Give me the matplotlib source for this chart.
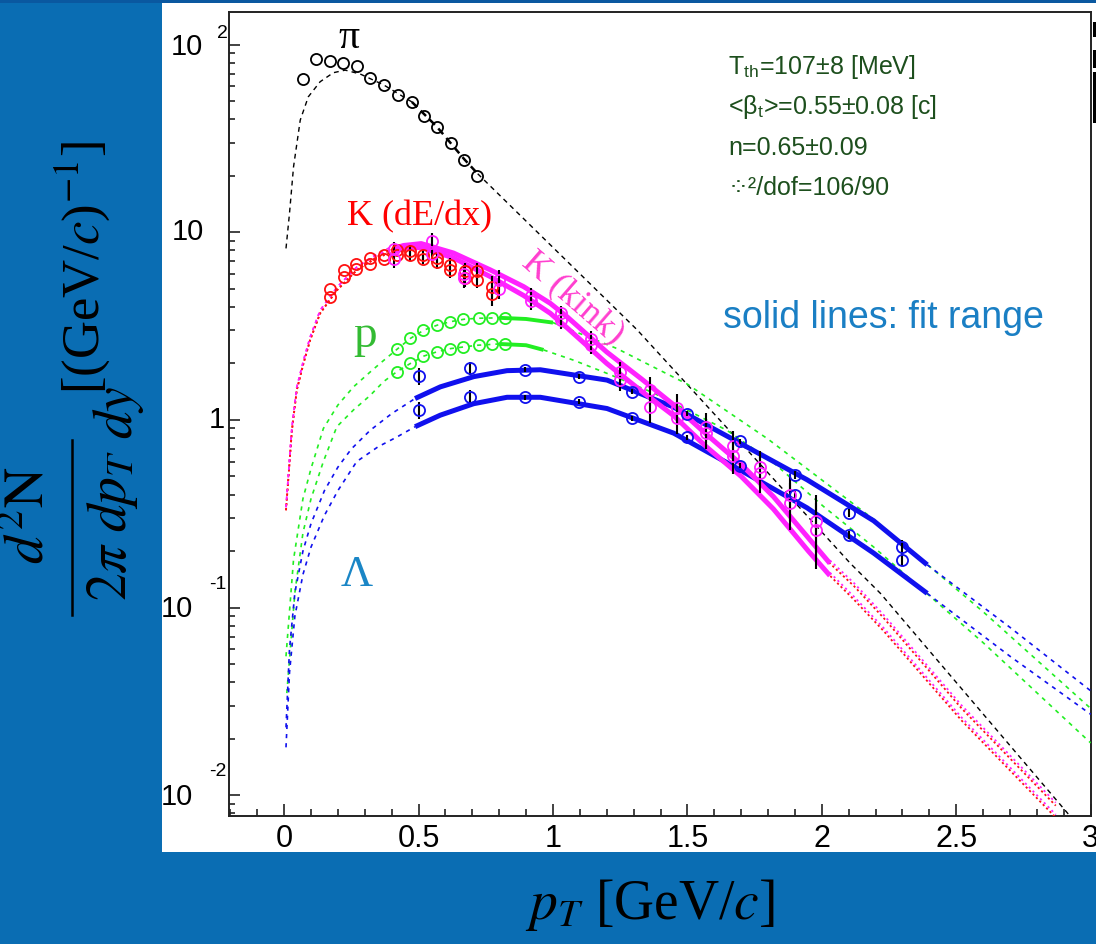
import numpy as np
import matplotlib
matplotlib.use('Agg')
import matplotlib.pyplot as plt
from matplotlib import transforms
from matplotlib.patches import Rectangle
from matplotlib.lines import Line2D
from matplotlib.ticker import FixedLocator, LogLocator, NullFormatter, MultipleLocator

plt.rcParams['mathtext.fontset'] = 'stix'

# ---------------- data ----------------
# pion data
pi_x = [0.072, 0.119, 0.169, 0.218, 0.271, 0.320, 0.370, 0.422, 0.475, 0.522, 0.568, 0.620, 0.670, 0.719]
pi_y = [65.4, 83.4, 81.7, 79.4, 76.8, 66.6, 60.9, 53.8, 49.5, 41.6, 36.5, 29.8, 24.4, 19.9]
# pion fit curve
pi_fx = [0.007, 0.020, 0.035, 0.060, 0.090, 0.134, 0.183, 0.227, 0.283, 0.370, 0.475, 0.568, 0.670, 0.720,
         1.000, 1.313, 1.700, 2.106, 2.218, 2.355, 2.918]
pi_fy = [8.2, 12.6, 22.3, 39.6, 52.7, 63.4, 70.8, 73.1, 69.7, 61.0, 49.5, 36.5, 24.5, 20.5,
         8.3, 3.02, 0.75, 0.172, 0.119, 0.070, 0.0079]

# kaon dE/dx data (two charges)
kd_x = [0.169, 0.221, 0.268, 0.320, 0.370, 0.419, 0.469, 0.518, 0.568, 0.618, 0.674, 0.717, 0.773]
kd_a = [5.0, 6.3, 6.8, 7.3, 7.6, 8.0, 7.9, 7.6, 7.3, 6.7, 6.2, 6.2, 5.1]
kd_b = [4.5, 5.8, 6.4, 6.8, 7.2, 7.6, 7.6, 7.2, 6.9, 6.3, 5.7, 5.6, 4.7]
kd_err = [0.0, 0.0, 0.0, 0.0, 0.0, 0.0, 0.08, 0.06, 0.08, 0.09, 0.10, 0.10, 0.14]

# kaon kink data
kk_x = [0.41, 0.55, 0.67, 0.80, 0.92, 1.03, 1.14, 1.25, 1.36, 1.46, 1.57, 1.67, 1.77, 1.88, 1.98]
kk_a = [8.1, 9.0, 6.0, 5.6, 4.6, 3.7, 2.7, 1.81, 1.44, 1.16, 0.92, 0.73, 0.56, 0.40, 0.29]
kk_b = [7.2, 7.7, 5.7, 5.0, 4.3, 3.4, 2.5, 1.63, 1.17, 1.03, 0.85, 0.64, 0.52, 0.36, 0.26]
kk_err = [0.10, 0.10, 0.12, 0.12, 0.10, 0.10, 0.10, 0.12, 0.18, 0.18, 0.18, 0.20, 0.22, 0.28, 0.38]

# kaon fit curves
k_fx = [0.007, 0.029, 0.047, 0.072, 0.097, 0.134, 0.196, 0.271, 0.345, 0.41, 0.444, 0.51, 0.63, 0.767, 0.891,
        0.990, 1.052, 1.20, 1.33, 1.45, 1.57, 1.70, 1.82, 1.95, 2.03, 2.12, 2.23, 2.52, 2.87]
k_fa = [0.33, 0.88, 1.44, 2.0, 2.67, 3.7, 4.9, 6.3, 7.4, 8.2, 8.5, 8.7, 7.75, 6.3, 5.13,
        4.18, 3.55, 2.3, 1.65, 1.2, 0.84, 0.58, 0.39, 0.235, 0.172, 0.13, 0.088, 0.029, 0.0088]
k_fb = [0.33, 0.88, 1.44, 2.0, 2.67, 3.7, 4.9, 6.3, 7.3, 7.9, 8.2, 8.3, 7.3, 5.8, 4.6,
        3.7, 3.1, 2.0, 1.42, 1.05, 0.72, 0.50, 0.335, 0.20, 0.148, 0.11, 0.075, 0.025, 0.0076]

# proton data
p_x = [0.419, 0.469, 0.518, 0.568, 0.618, 0.667, 0.723, 0.773, 0.822]
p_a = [2.38, 2.72, 3.01, 3.20, 3.34, 3.44, 3.48, 3.48, 3.48]
p_b = [1.81, 2.00, 2.19, 2.31, 2.40, 2.45, 2.51, 2.54, 2.54]
# proton fit curves
pa_fx = [0.007, 0.035, 0.07, 0.10, 0.146, 0.20, 0.258, 0.32, 0.357, 0.42, 0.47, 0.52, 0.57, 0.62, 0.67,
         0.72, 0.80, 0.90, 1.00, 1.238, 1.50, 1.80, 2.20, 2.60, 3.00]
pa_fy = [0.055, 0.18, 0.38, 0.55, 0.90, 1.20, 1.50, 1.80, 2.00, 2.38, 2.72, 3.01, 3.20, 3.34, 3.44,
         3.48, 3.50, 3.45, 3.30, 2.40, 1.55, 0.79, 0.29, 0.095, 0.029]
pb_fx = [0.01, 0.04, 0.07, 0.10, 0.146, 0.196, 0.258, 0.32, 0.37, 0.42, 0.47, 0.52, 0.57, 0.62, 0.67,
         0.72, 0.80, 0.90, 0.965, 1.077, 1.201, 1.375, 1.647, 1.821, 2.007, 2.193, 2.60, 3.00]
pb_fy = [0.035, 0.12, 0.25, 0.38, 0.60, 0.92, 1.13, 1.35, 1.60, 1.81, 2.00, 2.19, 2.31, 2.40, 2.45,
         2.50, 2.54, 2.50, 2.36, 2.08, 1.77, 1.39, 0.88, 0.59, 0.345, 0.21, 0.065, 0.019]

# lambda data
l_x = [0.500, 0.692, 0.897, 1.095, 1.294, 1.499, 1.697, 1.902, 2.100, 2.299]
l_a = [1.71, 1.88, 1.85, 1.70, 1.41, 1.08, 0.77, 0.51, 0.318, 0.211]
l_b = [1.13, 1.33, 1.32, 1.25, 1.02, 0.81, 0.57, 0.40, 0.244, 0.18]
l_err = [0.10, 0.08, 0.03, 0.03, 0.03, 0.03, 0.03, 0.05, 0.05, 0.08]
# lambda fit curves
la_fx = [0.007, 0.02, 0.04, 0.07, 0.10, 0.15, 0.20, 0.25, 0.32, 0.40, 0.487, 0.581, 0.705, 0.829, 0.953,
         1.201, 1.449, 1.697, 1.945, 2.193, 2.392, 2.702, 3.0]
la_fy = [0.023, 0.06, 0.12, 0.20, 0.28, 0.42, 0.56, 0.70, 0.88, 1.08, 1.30, 1.50, 1.70, 1.83, 1.85,
         1.63, 1.17, 0.75, 0.48, 0.29, 0.169, 0.078, 0.036]
lb_fx = [0.007, 0.02, 0.04, 0.07, 0.10, 0.15, 0.20, 0.27, 0.35, 0.419, 0.487, 0.581, 0.705, 0.829, 0.953,
         1.201, 1.449, 1.697, 1.945, 2.193, 2.392, 2.70, 3.0]
lb_fy = [0.018, 0.045, 0.09, 0.15, 0.21, 0.31, 0.42, 0.60, 0.72, 0.81, 0.92, 1.06, 1.22, 1.32, 1.32,
         1.15, 0.85, 0.54, 0.34, 0.195, 0.119, 0.055, 0.027]

x_ticks = [0, 0.5, 1, 1.5, 2, 2.5, 3]
x_ticklabels = ['0', '0.5', '1', '1.5', '2', '2.5', '3']

params = ['T$_{\\mathregular{th}}$=107±8 [MeV]', '<β$_{\\mathregular{t}}$>=0.55±0.08 [c]',
          'n=0.65±0.09', '⁘²/dof=106/90']

# ---------------- figure ----------------
W, H = 1096, 944
BG = '#0a6db3'
fig = plt.figure(figsize=(W / 100, H / 100), dpi=100, facecolor=BG)


def fx(px):
    return px / W


def fy(py):
    return 1 - py / H


fig.add_artist(Rectangle((0, fy(3)), 1, 1 - fy(3), transform=fig.transFigure,
                         facecolor='#0a58a0', edgecolor='none', zorder=-6))
fig.add_artist(Rectangle((fx(162), fy(852)), fx(1096) - fx(162), fy(3) - fy(852),
                         transform=fig.transFigure, facecolor='white', edgecolor='none', zorder=-5))
for (y0, y1) in [(22, 37), (50, 68), (72, 123)]:
    fig.add_artist(Rectangle((fx(1092.5), fy(y1)), fx(1096) - fx(1092.5), fy(y0) - fy(y1),
                             transform=fig.transFigure, facecolor='black', edgecolor='none', zorder=5))

ax = fig.add_axes([fx(229), fy(815.7), fx(1090.7) - fx(229), fy(12.3) - fy(815.7)])
ax.set_facecolor('none')
ax.set_yscale('log')
ax.set_xlim(-0.205, 3.0)
ax.set_ylim(0.00778, 148.6)
for s in ax.spines.values():
    s.set_linewidth(1.4)
    s.set_color('#222222')

ax.xaxis.set_major_locator(FixedLocator(x_ticks))
ax.xaxis.set_minor_locator(MultipleLocator(0.1))
ax.set_xticklabels(x_ticklabels, fontsize=22, family='Liberation Sans')
ax.yaxis.set_major_locator(LogLocator(base=10, numticks=10))
ax.yaxis.set_minor_locator(LogLocator(base=10, subs=np.arange(2, 10), numticks=20))
ax.yaxis.set_major_formatter(NullFormatter())
ax.yaxis.set_minor_formatter(NullFormatter())
ax.tick_params(axis='both', which='both', direction='in', top=False, right=False, width=1.2, color='#222222')
ax.tick_params(axis='x', which='major', length=9, pad=6)
ax.tick_params(axis='x', which='minor', length=5)
ax.tick_params(axis='y', which='major', length=8)
ax.tick_params(axis='y', which='minor', length=4.5)

# y tick labels, ROOT style
bt = transforms.blended_transform_factory(fig.transFigure, ax.transData)
ylab_spec = [  # value, main text, right px, dy px, exponent, exp right px, exp dy px
    (100, '10', 203, -2.5, '2', 228, 11),
    (10, '10', 204, 0, None, 0, 0),
    (1, '1', 225, 0, None, 0, 0),
    (0.1, '10', 193, -1.5, '-1', 227, 23),
    (0.01, '10', 193, -2, '-2', 227, 24),
]
for v, t, rx, dy, e, erx, edy in ylab_spec:
    ax.annotate(t, xy=(fx(rx), v), xycoords=bt, xytext=(0, dy), textcoords='offset pixels',
                ha='right', va='center', fontsize=21, family='Liberation Sans', annotation_clip=False)
    if e:
        ax.annotate(e, xy=(fx(erx), v), xycoords=bt, xytext=(0, edy), textcoords='offset pixels',
                    ha='right', va='center', fontsize=14, family='Liberation Sans', annotation_clip=False)


def seg(xs, ys, lo, hi):
    xs = np.asarray(xs); ys = np.asarray(ys)
    m_in = (xs >= lo) & (xs <= hi)
    m_lo = xs <= lo
    m_hi = xs >= hi
    return (xs[m_lo], ys[m_lo]), (xs[m_in], ys[m_in]), (xs[m_hi], ys[m_hi])


def fitcurve(xs, ys, lo, hi, color, dash, lw_thin, lw_thick, z=3, thick_ls='-'):
    a, b, c = seg(xs, ys, lo, hi)
    ax.plot(a[0], a[1], color=color, lw=lw_thin, ls=dash, zorder=z)
    ax.plot(c[0], c[1], color=color, lw=lw_thin, ls=dash, zorder=z)
    ax.plot(b[0], b[1], color=color, lw=lw_thick, ls=thick_ls, zorder=z + 0.5, solid_capstyle='butt')


GREEN = '#22ee22'
BLUE = '#1010ee'
MAG = '#ff22ff'
RED = '#ff1010'

# fit curves
fitcurve(pi_fx, pi_fy, 0.475, 0.72, 'black', (0, (3.5, 3)), 1.0, 1.8, thick_ls=(0, (3, 2)))
fitcurve(pa_fx, pa_fy, 0.80, 1.0, GREEN, (0, (2.5, 3)), 1.2, 2.8)
fitcurve(pb_fx, pb_fy, 0.80, 0.965, GREEN, (0, (2.5, 3)), 1.2, 2.8)
fitcurve(la_fx, la_fy, 0.487, 2.392, BLUE, (0, (2.5, 3)), 1.2, 3.6)
fitcurve(lb_fx, lb_fy, 0.487, 2.392, BLUE, (0, (2.5, 3)), 1.2, 3.6)
# kaon curves: red dotted (dE/dx) + magenta (kink)
for ky in (k_fa, k_fb):
    ax.plot(k_fx, ky, color=RED, lw=1.3, ls=(0, (1.2, 1.5)), zorder=3)
    off = transforms.offset_copy(ax.transData, fig=fig, x=0, y=3, units='dots')
    a, b, c = seg(k_fx, ky, 0.41, 2.03)
    ax.plot(a[0], a[1], color=MAG, lw=1.2, ls=(0, (2, 2.5)), zorder=3, transform=off)
    ax.plot(c[0], c[1], color=MAG, lw=1.3, ls=(0, (1.2, 1.8)), zorder=3, transform=off)
    ax.plot(b[0], b[1], color=MAG, lw=3.6, ls='-', zorder=3.6, solid_capstyle='butt')

mk = dict(marker='o', ls='none', mfc='none', ms=8, mew=1.3)
# pion points
ax.plot(pi_x, pi_y, color='black', zorder=6, **mk)
# kaon dE/dx
for ky in (kd_a, kd_b):
    e = np.array(kd_err) * np.array(ky)
    ax.errorbar(kd_x, ky, yerr=e, fmt='none', ecolor='black', elinewidth=1.5, capsize=0, zorder=5)
    ax.plot(kd_x, ky, color=RED, zorder=6, **mk)
# kaon kink
for ky in (kk_a, kk_b):
    e = np.array(kk_err) * np.array(ky)
    ax.errorbar(kk_x, ky, yerr=e, fmt='none', ecolor='black', elinewidth=1.5, capsize=0, zorder=5)
    ax.plot(kk_x, ky, color=MAG, zorder=6, **mk)
# protons
for py in (p_a, p_b):
    ax.plot(p_x, py, color=GREEN, zorder=6, **mk)
# lambdas
for ly in (l_a, l_b):
    e = np.array(l_err) * np.array(ly)
    ax.errorbar(l_x, ly, yerr=e, fmt='none', ecolor='black', elinewidth=1.5, capsize=0, zorder=5)
    ax.plot(l_x, ly, color=BLUE, zorder=6, **mk)

# ---------------- annotations ----------------
def ftext(px, py, s, **kw):
    fig.text(fx(px), fy(py), s, **kw)


serif = 'Liberation Serif'
ftext(349, 38, 'π', fontsize=30, family=serif, ha='center', va='center', color='black')
ftext(420, 217, 'K (dE/dx)', fontsize=26, family=serif, ha='center', va='center', color='#ff0000')
ftext(573, 298, 'K (kink)', fontsize=26, family=serif, ha='center', va='center', color='#ff3fcf',
      rotation=-41, rotation_mode='anchor', zorder=7)
ftext(365, 336, 'p', fontsize=34, family=serif, ha='center', va='center', color='#33bb33')
ftext(357, 575, 'Λ', fontsize=32, family=serif, ha='center', va='center', color='#1a86c6')
ftext(883, 318, 'solid lines: fit range', fontsize=27, family='Liberation Sans', ha='center',
      va='center', color='#1a7fc4')
for i, s in enumerate(params):
    ftext(728, 67 + 40.3 * i, s, fontsize=18, family=['Liberation Sans', 'DejaVu Sans'], ha='left',
          va='center', color='#1d4f1d')

# axis titles on the blue background
ftext(650, 905, r'$p_T$ [GeV/$c$]', fontsize=40, family=serif, ha='center', va='center', color='black')
ftext(30, 515, r'$d^{2}\mathrm{N}$', fontsize=40, family=serif, ha='center', va='center', rotation=90)
fig.add_artist(Line2D([fx(72), fx(72)], [fy(440), fy(615)], transform=fig.transFigure, color='black', lw=1.8))
ftext(112, 525, r'$2\pi\ dp_{T}$', fontsize=40, family=serif, ha='center', va='center', rotation=90)
ftext(118, 412, r'$dy$', fontsize=40, family=serif, ha='center', va='center', rotation=90)
ftext(82, 268, r'[(GeV/$c$)$^{\mathrm{-1}}$]', fontsize=38, family=serif, ha='center', va='center', rotation=90)

fig.savefig('out.png', dpi=100, facecolor=BG)
